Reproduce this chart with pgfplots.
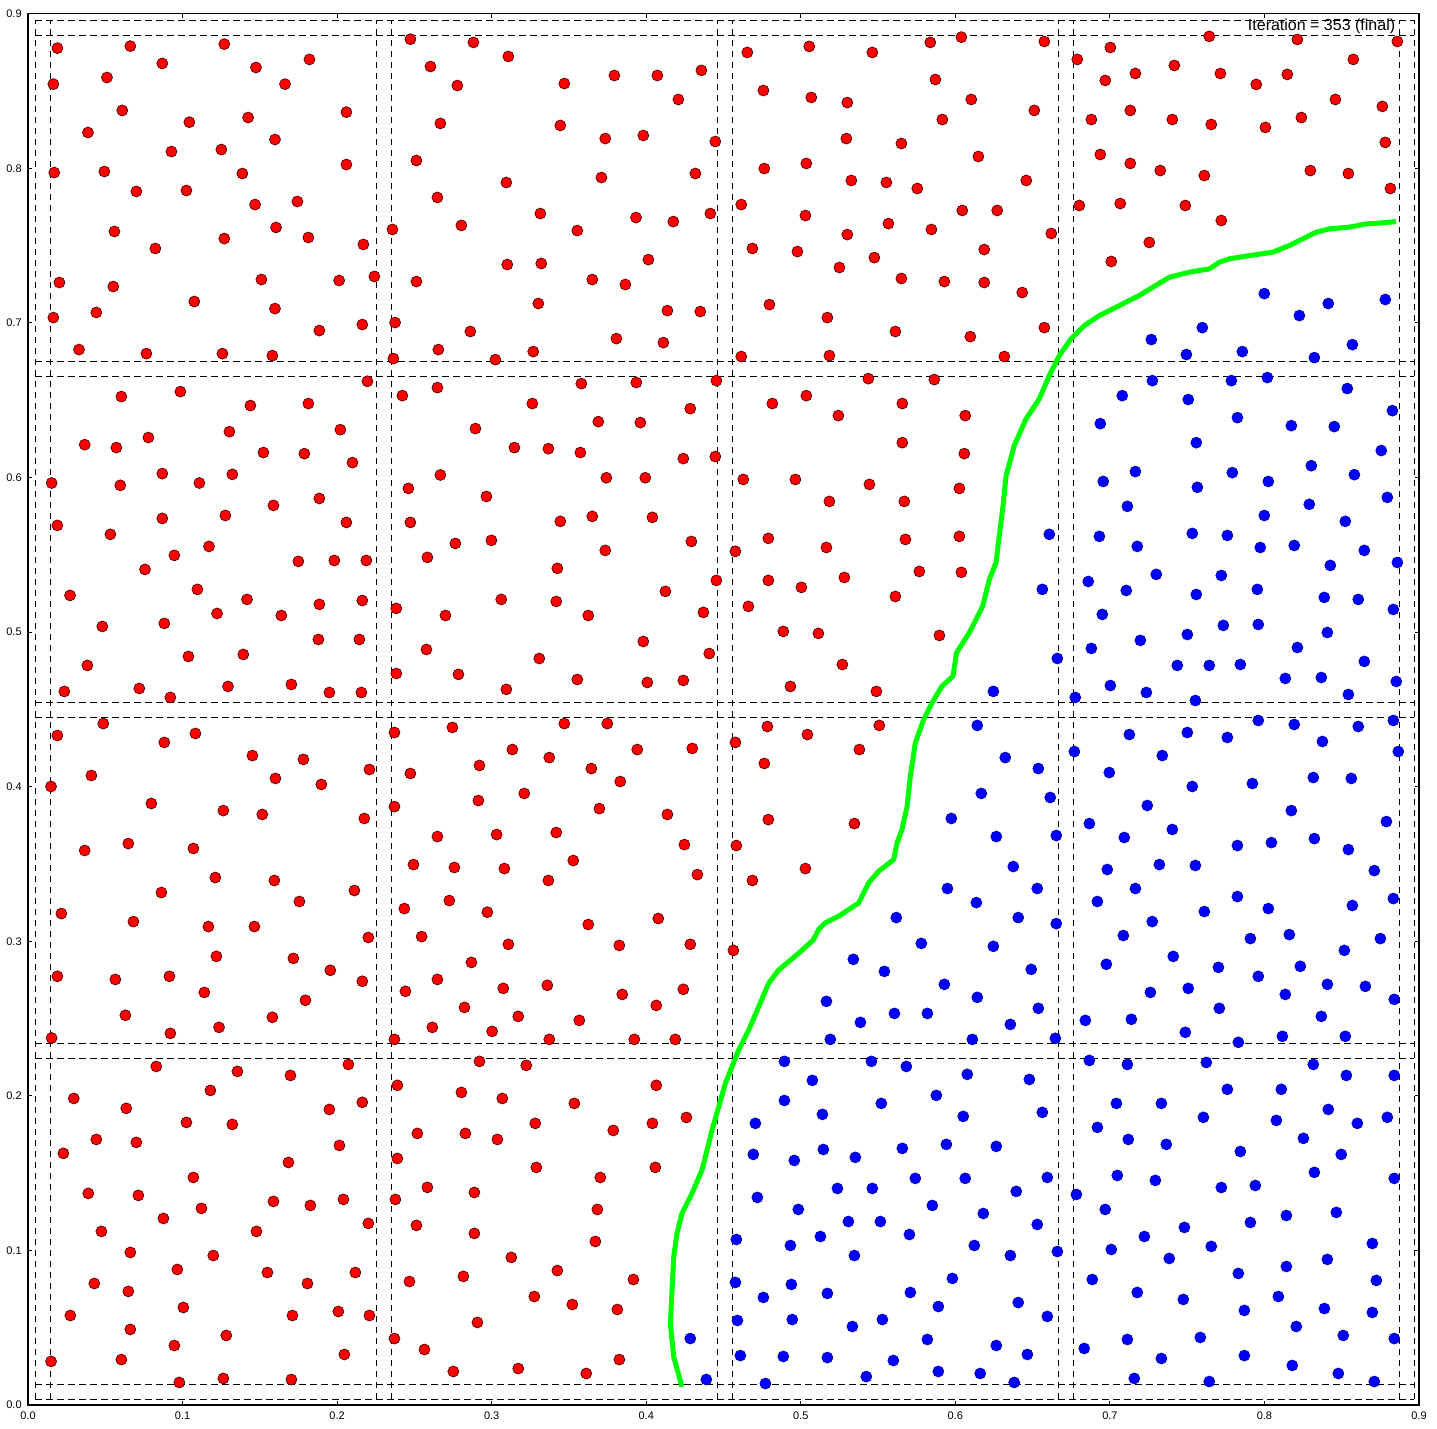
\documentclass[border=0pt]{standalone}
\usepackage{fontspec}
\setmainfont{Liberation Sans}
\usepackage{pgfplots}
\pgfplotsset{compat=1.18}
\usepackage{pgfplotstable}
\definecolor{limeline}{RGB}{0,255,0}

\pgfplotstableread{
x y
0.0190 0.8777
0.0662 0.8790
0.1270 0.8803
0.0869 0.8678
0.1475 0.8652
0.1821 0.8704
0.0511 0.8587
0.0164 0.8544
0.1663 0.8544
0.0610 0.8374
0.1044 0.8298
0.1424 0.8328
0.2060 0.8363
0.0388 0.8231
0.1598 0.8186
0.0928 0.8108
0.1251 0.8121
0.0170 0.7972
0.0494 0.7979
0.1387 0.7966
0.2060 0.8024
0.0701 0.7850
0.1025 0.7856
0.1469 0.7765
0.1743 0.7785
0.0559 0.7591
0.1270 0.7545
0.1605 0.7617
0.1814 0.7552
0.2170 0.7507
0.0824 0.7481
0.0203 0.7261
0.0552 0.7235
0.1510 0.7280
0.2013 0.7274
0.2241 0.7300
0.1076 0.7138
0.1598 0.7092
0.0164 0.7034
0.0442 0.7067
0.1885 0.6950
0.2163 0.6989
0.0330 0.6827
0.0766 0.6801
0.1258 0.6801
0.1581 0.6788
0.2474 0.8835
0.2882 0.8814
0.2604 0.8658
0.2778 0.8535
0.2668 0.8290
0.2513 0.8050
0.2649 0.7811
0.2804 0.7630
0.2358 0.7604
0.2513 0.7267
0.2375 0.7002
0.2862 0.6944
0.2655 0.6827
0.2364 0.6769
0.2196 0.6622
0.0604 0.6523
0.0986 0.6555
0.1439 0.6465
0.1814 0.6478
0.2422 0.6529
0.2649 0.6581
0.1303 0.6296
0.2021 0.6309
0.2895 0.6316
0.0367 0.6212
0.0572 0.6193
0.0779 0.6258
0.1523 0.6161
0.1788 0.6154
0.2099 0.6096
0.0869 0.6025
0.1322 0.6020
0.2668 0.6016
0.0153 0.5964
0.0597 0.5949
0.1109 0.5964
0.1588 0.5819
0.1885 0.5864
0.0190 0.5690
0.0533 0.5632
0.0869 0.5735
0.1277 0.5754
0.2060 0.5709
0.1171 0.5554
0.0947 0.5496
0.0757 0.5405
0.1749 0.5457
0.1982 0.5463
0.2189 0.5463
0.0272 0.5237
0.1096 0.5276
0.1417 0.5211
0.1885 0.5179
0.2163 0.5204
0.0481 0.5036
0.0882 0.5056
0.1223 0.5120
0.1639 0.5107
0.1879 0.4952
0.2144 0.4952
0.0384 0.4784
0.1038 0.4842
0.1393 0.4855
0.0235 0.4616
0.0720 0.4635
0.0921 0.4577
0.1294 0.4648
0.1704 0.4661
0.1950 0.4609
0.2157 0.4609
0.2461 0.5929
0.2966 0.5877
0.2474 0.5709
0.2765 0.5573
0.2998 0.5593
0.2584 0.5483
0.2383 0.5153
0.2701 0.5107
0.2578 0.4887
0.2383 0.4732
0.2785 0.4726
0.0487 0.4408
0.0190 0.4331
0.0882 0.4286
0.1083 0.4344
0.1452 0.4201
0.1782 0.4176
0.2209 0.4111
0.0410 0.4072
0.0149 0.4001
0.1601 0.4053
0.1898 0.4014
0.0798 0.3891
0.1264 0.3845
0.1516 0.3820
0.2176 0.3794
0.0367 0.3587
0.0649 0.3632
0.1070 0.3600
0.1212 0.3412
0.1594 0.3393
0.2112 0.3328
0.0863 0.3315
0.1756 0.3257
0.0216 0.3179
0.0682 0.3127
0.1167 0.3095
0.1465 0.3095
0.2202 0.3024
0.2371 0.4350
0.2746 0.4383
0.2474 0.4085
0.2921 0.4137
0.2914 0.3910
0.2371 0.3871
0.2649 0.3677
0.2494 0.3496
0.2759 0.3477
0.2435 0.3211
0.2726 0.3263
0.2972 0.3188
0.2547 0.3030
0.1219 0.2902
0.1717 0.2889
0.1956 0.2812
0.0190 0.2773
0.0565 0.2753
0.0915 0.2773
0.1141 0.2669
0.2163 0.2741
0.1795 0.2618
0.0630 0.2521
0.1581 0.2508
0.1236 0.2443
0.0921 0.2404
0.0153 0.2374
0.2442 0.2676
0.2649 0.2753
0.2869 0.2863
0.2824 0.2572
0.2616 0.2443
0.2371 0.2365
0.3003 0.2417
0.0830 0.2190
0.1355 0.2158
0.1698 0.2132
0.2073 0.2203
0.0296 0.1983
0.0636 0.1919
0.1180 0.2035
0.1950 0.1912
0.2163 0.1958
0.1025 0.1828
0.1322 0.1815
0.0442 0.1718
0.0701 0.1699
0.2015 0.1679
0.0229 0.1628
0.1685 0.1569
0.1070 0.1472
0.0390 0.1369
0.0714 0.1356
0.1588 0.1317
0.1827 0.1291
0.2041 0.1330
0.1122 0.1272
0.0876 0.1207
0.2202 0.1175
0.0475 0.1123
0.1478 0.1123
0.0662 0.0987
0.1199 0.0967
0.0966 0.0877
0.1549 0.0857
0.2118 0.0857
0.0429 0.0786
0.0649 0.0735
0.1808 0.0786
0.1005 0.0631
0.0274 0.0579
0.1711 0.0579
0.2008 0.0605
0.2209 0.0579
0.0662 0.0489
0.1283 0.0450
0.0947 0.0385
0.2047 0.0327
0.0149 0.0282
0.0604 0.0294
0.0979 0.0146
0.1264 0.0172
0.1704 0.0165
0.2921 0.2223
0.2390 0.2068
0.2804 0.2022
0.2519 0.1757
0.2830 0.1757
0.2390 0.1595
0.2584 0.1408
0.2888 0.1375
0.2377 0.1330
0.2513 0.1162
0.2888 0.1110
0.2468 0.0799
0.2817 0.0832
0.2908 0.0534
0.2371 0.0430
0.2565 0.0359
0.2752 0.0217
0.3108 0.8723
0.3470 0.8548
0.3794 0.8600
0.4072 0.8600
0.4357 0.8633
0.4208 0.8445
0.3444 0.8277
0.3735 0.8192
0.3981 0.8212
0.4447 0.8173
0.3095 0.7908
0.3710 0.7940
0.4318 0.7966
0.3315 0.7707
0.3554 0.7597
0.3934 0.7681
0.4175 0.7655
0.4415 0.7707
0.3101 0.7377
0.3321 0.7384
0.3651 0.7280
0.3865 0.7248
0.4014 0.7409
0.3302 0.7125
0.4137 0.7079
0.4350 0.7073
0.3807 0.6898
0.4111 0.6872
0.3269 0.6814
0.3024 0.6762
0.4654 0.8749
0.5055 0.8788
0.5463 0.8749
0.5838 0.8814
0.4758 0.8503
0.5068 0.8458
0.5301 0.8425
0.5871 0.8574
0.5916 0.8315
0.5295 0.8192
0.5651 0.8160
0.4764 0.7998
0.5036 0.8031
0.5327 0.7921
0.5554 0.7908
0.5754 0.7869
0.4615 0.7765
0.5030 0.7694
0.5301 0.7571
0.5567 0.7642
0.5845 0.7604
0.4687 0.7481
0.4978 0.7461
0.5250 0.7358
0.5476 0.7422
0.5651 0.7287
0.5929 0.7267
0.4797 0.7118
0.5172 0.7034
0.5612 0.6944
0.4615 0.6782
0.5185 0.6788
0.3580 0.6607
0.3936 0.6614
0.4454 0.6626
0.3263 0.6478
0.4285 0.6445
0.3690 0.6361
0.3962 0.6355
0.3147 0.6193
0.3367 0.6186
0.3574 0.6161
0.4240 0.6122
0.4447 0.6135
0.5437 0.6639
0.5864 0.6633
0.4816 0.6478
0.5036 0.6529
0.5243 0.6400
0.5657 0.6478
0.5657 0.6225
0.3742 0.5998
0.3994 0.5998
0.4628 0.5987
0.4965 0.5987
0.5444 0.5955
0.3444 0.5716
0.3651 0.5748
0.4040 0.5742
0.5185 0.5845
0.5670 0.5845
0.4292 0.5586
0.3735 0.5528
0.4577 0.5522
0.4790 0.5606
0.5166 0.5547
0.5677 0.5599
0.3425 0.5412
0.4454 0.5334
0.4790 0.5334
0.5004 0.5289
0.5282 0.5353
0.5767 0.5392
0.3062 0.5211
0.3418 0.5198
0.4124 0.5263
0.3625 0.5107
0.4370 0.5127
0.4661 0.5166
0.5612 0.5230
0.3981 0.4939
0.4887 0.5004
0.5114 0.4991
0.5897 0.4978
0.3308 0.4829
0.4408 0.4861
0.5269 0.4790
0.3095 0.4629
0.3554 0.4693
0.4007 0.4674
0.4240 0.4687
0.4933 0.4648
0.5489 0.4616
0.3470 0.4408
0.3748 0.4408
0.4784 0.4389
0.5043 0.4337
0.5508 0.4396
0.3134 0.4240
0.3373 0.4188
0.3942 0.4240
0.4298 0.4247
0.4577 0.4286
0.5379 0.4240
0.3645 0.4117
0.3832 0.4033
0.4764 0.4150
0.3211 0.3956
0.3697 0.3858
0.4137 0.3820
0.4790 0.3787
0.5347 0.3761
0.3032 0.3690
0.3418 0.3703
0.4247 0.3625
0.4583 0.3619
0.3082 0.3470
0.3528 0.3522
0.3367 0.3393
0.4331 0.3431
0.4687 0.3393
0.5030 0.3470
0.3625 0.3108
0.4078 0.3147
0.6039 0.8848
0.6576 0.8820
0.6103 0.8445
0.6511 0.8374
0.6149 0.8076
0.6459 0.7921
0.6045 0.7727
0.6271 0.7727
0.6621 0.7578
0.6187 0.7474
0.6187 0.7261
0.6433 0.7196
0.6576 0.6969
0.6097 0.6911
0.6317 0.6782
0.6064 0.6400
0.6058 0.6154
0.6789 0.8704
0.7003 0.8781
0.6970 0.8568
0.7165 0.8613
0.7417 0.8665
0.7643 0.8853
0.7715 0.8613
0.7947 0.8542
0.8148 0.8607
0.8213 0.8833
0.8575 0.8704
0.8860 0.8820
0.6880 0.8315
0.7132 0.8374
0.7404 0.8315
0.7656 0.8283
0.8006 0.8264
0.8239 0.8328
0.8459 0.8445
0.8763 0.8400
0.8782 0.8167
0.6938 0.8089
0.7132 0.8031
0.7326 0.7985
0.7611 0.7953
0.8297 0.7985
0.8543 0.7966
0.8815 0.7869
0.6802 0.7759
0.7067 0.7772
0.7488 0.7759
0.7721 0.7662
0.7255 0.7520
0.7009 0.7397
0.6026 0.5929
0.6026 0.5619
0.6039 0.5386
0.3108 0.2980
0.3826 0.2973
0.4285 0.2980
0.4564 0.2941
0.3075 0.2695
0.3360 0.2715
0.3845 0.2656
0.4240 0.2689
0.4065 0.2585
0.3172 0.2514
0.3567 0.2488
0.3373 0.2365
0.3923 0.2365
0.4188 0.2365
0.3224 0.2197
0.4065 0.2068
0.3069 0.1983
0.3535 0.1951
0.3282 0.1822
0.3787 0.1776
0.4040 0.1822
0.4260 0.1860
0.3037 0.1718
0.3289 0.1537
0.3703 0.1472
0.4059 0.1537
0.3684 0.1265
0.3671 0.1058
0.3127 0.0955
0.3425 0.0870
0.3917 0.0812
0.3276 0.0702
0.3522 0.0650
0.3813 0.0618
0.3172 0.0236
0.3612 0.0204
0.3826 0.0294
}\redpts

\pgfplotstableread{
x y
0.7999 0.7189
0.8413 0.7125
0.8782 0.7151
0.8226 0.7047
0.7598 0.6969
0.7268 0.6892
0.7495 0.6795
0.7857 0.6814
0.8323 0.6775
0.8569 0.6859
0.7275 0.6626
0.7786 0.6626
0.8019 0.6646
0.8536 0.6575
0.7080 0.6529
0.7507 0.6504
0.7825 0.6387
0.8828 0.6432
0.6938 0.6348
0.8174 0.6335
0.8452 0.6329
0.7559 0.6225
0.8756 0.6174
0.7165 0.6038
0.7792 0.6031
0.8303 0.6076
0.8582 0.6018
0.5974 0.3794
0.5949 0.3341
0.5618 0.3153
0.6957 0.5974
0.7566 0.5936
0.8025 0.5974
0.8795 0.5871
0.7113 0.5813
0.8290 0.5826
0.7999 0.5754
0.8523 0.5716
0.6608 0.5632
0.6932 0.5619
0.7533 0.5638
0.7760 0.5625
0.7177 0.5554
0.7973 0.5547
0.8193 0.5560
0.8646 0.5528
0.8426 0.5431
0.8860 0.5450
0.7300 0.5373
0.7721 0.5366
0.6563 0.5276
0.6860 0.5327
0.7106 0.5269
0.7559 0.5243
0.7954 0.5276
0.8387 0.5224
0.8607 0.5211
0.8834 0.5146
0.6951 0.5114
0.7734 0.5043
0.7960 0.5049
0.8407 0.4997
0.7501 0.4984
0.7197 0.4946
0.6880 0.4894
0.8213 0.4900
0.6660 0.4829
0.7436 0.4784
0.7643 0.4784
0.7844 0.4790
0.8646 0.4810
0.8135 0.4700
0.8368 0.4706
0.8853 0.4680
0.6246 0.4616
0.7003 0.4654
0.7236 0.4609
0.8543 0.4596
0.6776 0.4577
0.7553 0.4557
0.6142 0.4396
0.7126 0.4337
0.7501 0.4350
0.7760 0.4318
0.7960 0.4428
0.8193 0.4402
0.8607 0.4389
0.8834 0.4428
0.8375 0.4292
0.6323 0.4188
0.6770 0.4227
0.7339 0.4201
0.8866 0.4227
0.6537 0.4117
0.6996 0.4091
0.6168 0.3956
0.6614 0.3930
0.7533 0.4001
0.7922 0.4020
0.8316 0.4059
0.8562 0.4053
0.7242 0.3878
0.8174 0.3845
0.6867 0.3761
0.7404 0.3723
0.8789 0.3774
0.6265 0.3677
0.6653 0.3684
0.7093 0.3671
0.7825 0.3619
0.8045 0.3638
0.8323 0.3664
0.8543 0.3593
0.6375 0.3483
0.6983 0.3464
0.7320 0.3496
0.7553 0.3490
0.8711 0.3457
0.6530 0.3341
0.7165 0.3341
0.7825 0.3289
0.6136 0.3250
0.6919 0.3257
0.7611 0.3192
0.8025 0.3211
0.8569 0.3231
0.8834 0.3276
0.6407 0.3153
0.6653 0.3114
0.7274 0.3127
0.7087 0.3037
0.7909 0.3017
0.8161 0.3043
0.8750 0.3017
0.5780 0.2986
0.5340 0.2883
0.5541 0.2805
0.5929 0.2721
0.5166 0.2611
0.5386 0.2475
0.5606 0.2533
0.5819 0.2533
0.5191 0.2365
0.4894 0.2223
0.5457 0.2223
0.5683 0.2190
0.5075 0.2100
0.4894 0.1970
0.5521 0.1951
0.5877 0.2003
0.5140 0.1880
0.4706 0.1822
0.4693 0.1621
0.4958 0.1582
0.5146 0.1653
0.5353 0.1602
0.5657 0.1660
0.5942 0.1686
0.5741 0.1466
0.5237 0.1401
0.5463 0.1401
0.4719 0.1343
0.4984 0.1265
0.5851 0.1291
0.5308 0.1187
0.5515 0.1187
0.4583 0.1071
0.4933 0.1032
0.5127 0.1090
0.5347 0.0967
0.5703 0.1103
0.5981 0.0819
0.4577 0.0793
0.4939 0.0780
0.4758 0.0696
0.5172 0.0722
0.5709 0.0728
0.5890 0.0637
0.4590 0.0547
0.4945 0.0553
0.5334 0.0508
0.5528 0.0553
0.5819 0.0424
0.4285 0.0430
0.4609 0.0320
0.4887 0.0314
0.5172 0.0307
0.5599 0.0288
0.5890 0.0217
0.4389 0.0165
0.4771 0.0139
0.5424 0.0184
0.6246 0.2967
0.6491 0.2818
0.6142 0.2637
0.6537 0.2566
0.6356 0.2462
0.6110 0.2365
0.6647 0.2372
0.6977 0.2851
0.7410 0.2902
0.7702 0.2831
0.7960 0.2773
0.8232 0.2838
0.8517 0.2941
0.7262 0.2669
0.7507 0.2695
0.8407 0.2721
0.8653 0.2708
0.8135 0.2656
0.8840 0.2624
0.6841 0.2488
0.7139 0.2495
0.7708 0.2566
0.8368 0.2514
0.7488 0.2411
0.7831 0.2346
0.8116 0.2385
0.8523 0.2385
0.6077 0.2139
0.6479 0.2106
0.6867 0.2229
0.7113 0.2203
0.7624 0.2216
0.8316 0.2203
0.8530 0.2132
0.8840 0.2132
0.6051 0.1867
0.6563 0.1893
0.7042 0.1951
0.7333 0.1951
0.7760 0.2042
0.8109 0.2042
0.7605 0.1861
0.8077 0.1841
0.8413 0.1912
0.8601 0.1822
0.8795 0.1861
0.6919 0.1796
0.6265 0.1673
0.7119 0.1718
0.7365 0.1686
0.7844 0.1640
0.8252 0.1725
0.8497 0.1621
0.6064 0.1466
0.6595 0.1472
0.7048 0.1485
0.7294 0.1453
0.8323 0.1505
0.6394 0.1382
0.6783 0.1362
0.7721 0.1407
0.7941 0.1420
0.8840 0.1466
0.6181 0.1239
0.6970 0.1265
0.8142 0.1226
0.8465 0.1246
0.6530 0.1168
0.7482 0.1149
0.7909 0.1181
0.7223 0.1090
0.6123 0.1032
0.6356 0.0967
0.6660 0.0993
0.7009 0.1006
0.7656 0.1026
0.8698 0.1045
0.7384 0.0948
0.8142 0.0896
0.8407 0.0942
0.6886 0.0812
0.7831 0.0851
0.8724 0.0806
0.7177 0.0728
0.6407 0.0663
0.7475 0.0683
0.8090 0.0702
0.6595 0.0573
0.7870 0.0612
0.8388 0.0624
0.8698 0.0599
0.8206 0.0508
0.6265 0.0385
0.6466 0.0327
0.6834 0.0366
0.7113 0.0424
0.7585 0.0437
0.8510 0.0450
0.8840 0.0430
0.7333 0.0301
0.7870 0.0320
0.8180 0.0256
0.6161 0.0204
0.6381 0.0146
0.7158 0.0172
0.7643 0.0152
0.8478 0.0204
0.8711 0.0152
}\bluepts

\pgfplotstableread{
x y
0.4231 0.0118
0.4178 0.0312
0.4156 0.0527
0.4167 0.0743
0.4178 0.0959
0.4199 0.1110
0.4231 0.1239
0.4296 0.1369
0.4361 0.1520
0.4383 0.1606
0.4426 0.1779
0.4469 0.1929
0.4512 0.2081
0.4555 0.2188
0.4598 0.2296
0.4663 0.2426
0.4728 0.2577
0.4792 0.2728
0.4857 0.2814
0.4986 0.2922
0.5080 0.3007
0.5116 0.3076
0.5159 0.3119
0.5245 0.3162
0.5310 0.3205
0.5375 0.3248
0.5439 0.3377
0.5504 0.3453
0.5601 0.3528
0.5623 0.3636
0.5655 0.3723
0.5688 0.3874
0.5709 0.4068
0.5741 0.4283
0.5795 0.4434
0.5849 0.4542
0.5914 0.4650
0.5985 0.4715
0.6008 0.4866
0.6090 0.4995
0.6177 0.5168
0.6220 0.5340
0.6263 0.5448
0.6284 0.5621
0.6306 0.5793
0.6328 0.6008
0.6381 0.6206
0.6457 0.6378
0.6543 0.6508
0.6608 0.6659
0.6673 0.6788
0.6748 0.6896
0.6834 0.6982
0.6932 0.7047
0.7061 0.7112
0.7190 0.7177
0.7277 0.7230
0.7385 0.7295
0.7514 0.7328
0.7643 0.7349
0.7708 0.7392
0.7773 0.7414
0.7902 0.7435
0.8053 0.7457
0.8161 0.7500
0.8247 0.7543
0.8334 0.7586
0.8420 0.7608
0.8549 0.7619
0.8657 0.7640
0.8765 0.7647
0.8851 0.7655
}\boundary

\begin{document}
\begin{tikzpicture}
\begin{axis}[
  scale only axis,
  width=417.3pt, height=417.4pt,
  xmin=0, xmax=0.9, ymin=0, ymax=0.9,
  xtick={0,0.1,0.2,0.3,0.4,0.5,0.6,0.7,0.8,0.9},
  ytick={0,0.1,0.2,0.3,0.4,0.5,0.6,0.7,0.8,0.9},
  /pgf/number format/assume math mode=true,
  xticklabel={\pgfmathprintnumber[fixed,fixed zerofill,precision=1]{\tick}},
  yticklabel={\pgfmathprintnumber[fixed,fixed zerofill,precision=1]{\tick}},
  tick label style={font=\fontsize{3.3}{4}\selectfont, inner sep=0pt},
  xticklabel style={yshift=-1.9pt},
  yticklabel style={xshift=-1.7pt},
  tick align=inside,
  major tick length=1.2pt,
  every tick/.style={black, line width=0.3pt},
  axis line style={black, line width=0.45pt},
  dline/.style={black, line width=0.3pt, dash pattern=on 2pt off 1.3pt, forget plot},
]
% vertical dashed lines
\addplot[dline] coordinates {(0.0047,0.0036) (0.0047,0.8956)};
\addplot[dline] coordinates {(0.0145,0.0036) (0.0145,0.8956)};
\addplot[dline] coordinates {(0.2256,0.0036) (0.2256,0.8956)};
\addplot[dline] coordinates {(0.2351,0.0036) (0.2351,0.8956)};
\addplot[dline] coordinates {(0.4460,0.0036) (0.4460,0.8956)};
\addplot[dline] coordinates {(0.4557,0.0036) (0.4557,0.8956)};
\addplot[dline] coordinates {(0.6666,0.0036) (0.6666,0.8956)};
\addplot[dline] coordinates {(0.6763,0.0036) (0.6763,0.8956)};
\addplot[dline] coordinates {(0.8873,0.0036) (0.8873,0.8956)};
\addplot[dline] coordinates {(0.8970,0.0036) (0.8970,0.8956)};
% horizontal dashed lines
\addplot[dline] coordinates {(0.0047,0.0036) (0.8970,0.0036)};
\addplot[dline] coordinates {(0.0047,0.0133) (0.8970,0.0133)};
\addplot[dline] coordinates {(0.0047,0.2242) (0.8970,0.2242)};
\addplot[dline] coordinates {(0.0047,0.2337) (0.8970,0.2337)};
\addplot[dline] coordinates {(0.0047,0.4449) (0.8970,0.4449)};
\addplot[dline] coordinates {(0.0047,0.4544) (0.8970,0.4544)};
\addplot[dline] coordinates {(0.0047,0.6652) (0.8970,0.6652)};
\addplot[dline] coordinates {(0.0047,0.6749) (0.8970,0.6749)};
\addplot[dline] coordinates {(0.0047,0.8859) (0.8970,0.8859)};
\addplot[dline] coordinates {(0.0047,0.8956) (0.8970,0.8956)};
% points
\addplot[only marks, mark=*, mark size=1.65pt, mark options={fill=red, draw=black!70!red, line width=0.2pt}] table {\redpts};
\addplot[only marks, mark=*, mark size=1.65pt, mark options={fill=blue, draw=blue!70!black, line width=0.2pt}] table {\bluepts};
% boundary
\addplot[limeline, line width=1.5pt, mark=none, line join=round] table {\boundary};
\node[anchor=base east, inner sep=0pt, font=\fontsize{4.8}{5.8}\selectfont] at (axis cs:0.885,0.8890) {Iteration = 353 (final)};
\end{axis}
\pgfresetboundingbox
\path[use as bounding box] ([shift={(-8.4pt,-6.9pt)}]current axis.south west) rectangle ([shift={(5.4pt,4.1pt)}]current axis.north east);
\end{tikzpicture}
\end{document}
